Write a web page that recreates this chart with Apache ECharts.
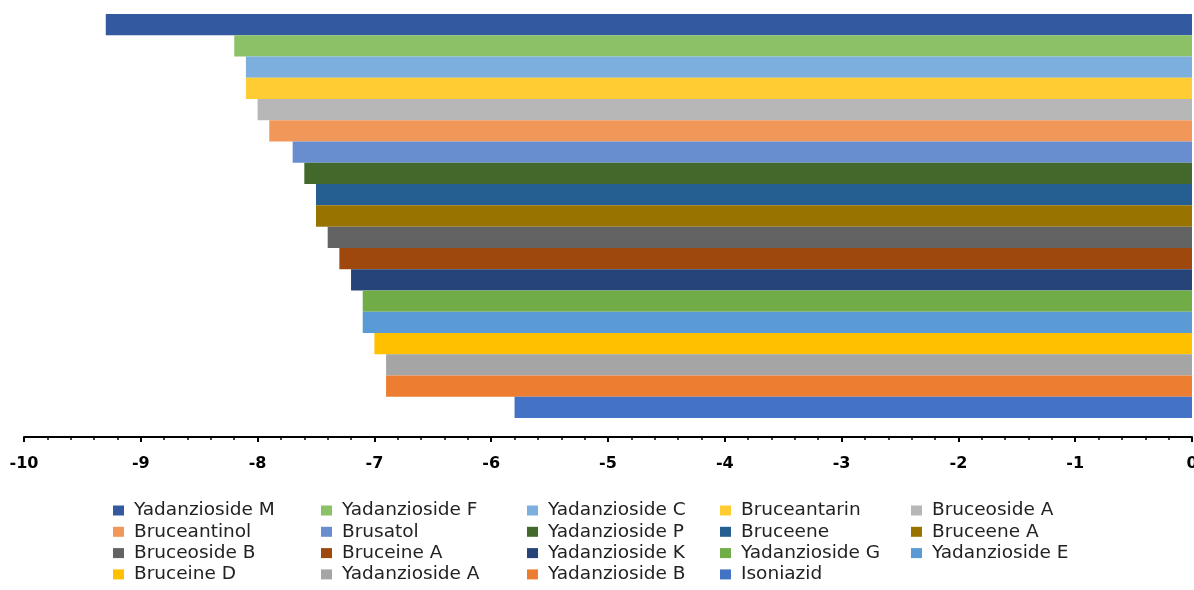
<!DOCTYPE html>
<html><head><meta charset="utf-8">
<script src="https://cdn.jsdelivr.net/npm/echarts@6/dist/echarts.min.js"></script>
<style>html,body{margin:0;padding:0;background:#fff;overflow:hidden}#c{width:1194px;height:590px}</style>
</head><body><div id="c"></div>
<script>
const names = ["Yadanzioside M","Yadanzioside F","Yadanzioside C","Bruceantarin","Bruceoside A","Bruceantinol","Brusatol","Yadanzioside P","Bruceene","Bruceene A","Bruceoside B","Bruceine A","Yadanzioside K","Yadanzioside G","Yadanzioside E","Bruceine D","Yadanzioside A","Yadanzioside B","Isoniazid"];
const values = [-9.3,-8.2,-8.1,-8.1,-8.0,-7.9,-7.7,-7.6,-7.5,-7.5,-7.4,-7.3,-7.2,-7.1,-7.1,-7.0,-6.9,-6.9,-5.8];
const colors = ["#335AA1","#8CC168","#7CAFDD","#FFCD33","#B7B7B7","#F1975A","#698ED0","#43682B","#255E91","#997300","#636363","#9E480E","#264478","#70AD47","#5B9BD5","#FFC000","#A5A5A5","#ED7D31","#4472C4"];
const xTicks = {min:-10, max:0, interval:1};
const legendCols = [
  ["Yadanzioside M","Bruceantinol","Bruceoside B","Bruceine D"],
  ["Yadanzioside F","Brusatol","Bruceine A","Yadanzioside A"],
  ["Yadanzioside C","Yadanzioside P","Yadanzioside K","Yadanzioside B"],
  ["Bruceantarin","Bruceene","Yadanzioside G","Isoniazid"],
  ["Bruceoside A","Bruceene A","Yadanzioside E"]
];
const legendLeft = [113, 321, 527, 720, 911];
const font = "'DejaVu Sans', sans-serif";
const chart = echarts.init(document.getElementById('c'));
chart.setOption({
  animation:false,
  color: colors,
  grid:{left:24,right:2,top:14,bottom:172,containLabel:false,outerBoundsMode:'none'},
  xAxis:{type:'value',min:xTicks.min,max:xTicks.max,interval:xTicks.interval,offset:19,
    axisLine:{show:true,lineStyle:{color:'#000',width:2}},
    axisTick:{show:true,length:5,lineStyle:{color:'#000',width:2}},
    minorTick:{show:true,splitNumber:5,length:3,lineStyle:{color:'#000',width:1.5}},
    splitLine:{show:false},
    axisLabel:{color:'#000',fontWeight:'bold',fontSize:16,fontFamily:font,margin:19,hideOverlap:false}},
  yAxis:{type:'category',data:[''],show:false},
  legend: legendCols.map((col,i)=>({data:col,orient:'vertical',left:legendLeft[i],top:501,padding:0,itemWidth:11,itemHeight:10,itemGap:2.3,icon:'rect',
    textStyle:{fontSize:18.5,lineHeight:18,fontFamily:font,color:'#222',padding:[0,0,0,5]}})),
  series: names.map((n,i)=>({name:n,type:'bar',data:[values[i]],barGap:'0%',barCategoryGap:'0%',itemStyle:{color:colors[i]}}))
});
</script></body></html>
